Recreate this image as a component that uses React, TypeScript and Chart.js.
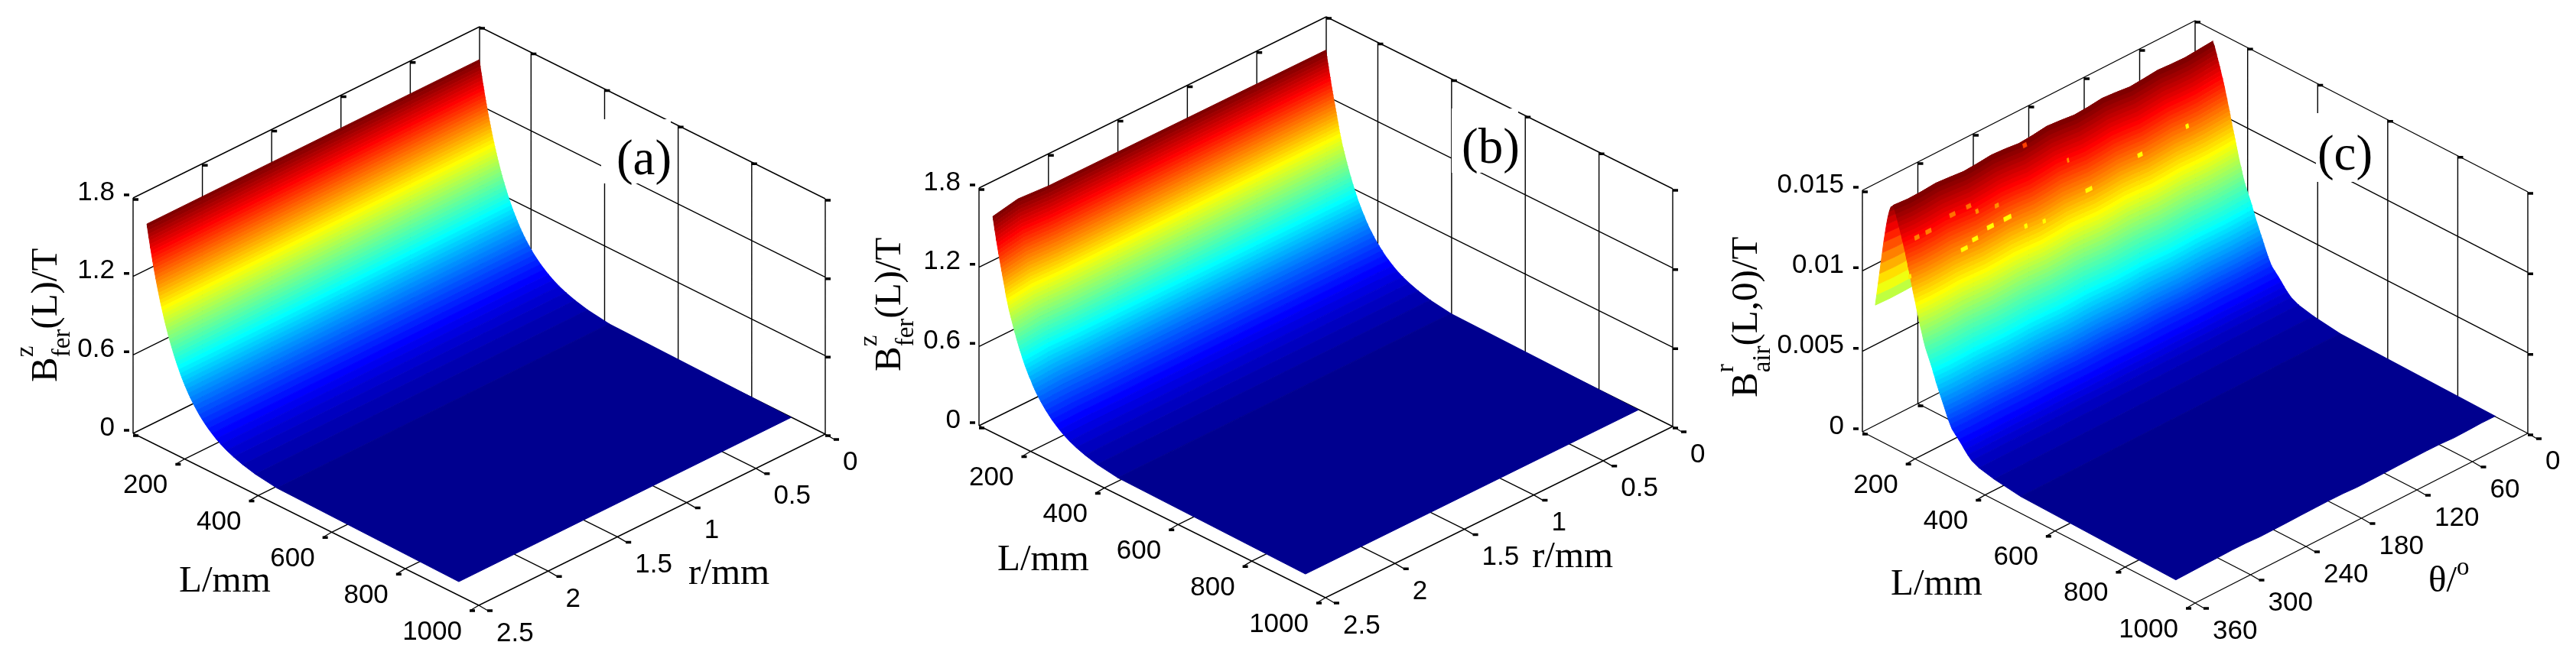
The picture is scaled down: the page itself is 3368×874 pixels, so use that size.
import React, { useEffect, useRef } from "react";
import { Chart, registerables } from "chart.js";

Chart.register(...registerables);

// ---------- data ----------
const LENGTH_TICKS = [200, 400, 600, 800, 1000];
const RADIUS_TICKS = [0, 0.5, 1, 1.5, 2, 2.5];
const RADIUS_TICK_LABELS = ["0", "0.5", "1", "1.5", "2", "2.5"];
const ANGLE_TICKS = [0, 60, 120, 180, 240, 300, 360];
const ANGLE_TICK_LABELS = ["0", "60", "120", "180", "240", "300", "360"];
const FERRITE_TICKS = [0, 0.6, 1.2, 1.8];
const FERRITE_TICK_LABELS = ["0", "0.6", "1.2", "1.8"];
const AIR_TICKS = [0, 0.005, 0.01, 0.015];
const AIR_TICK_LABELS = ["0", "0.005", "0.01", "0.015"];

// Lengths along the core (mm) at which the surface changes colour level, panel (a)
const LENGTH_A = [
  60, 61.3, 62.7, 64.1, 65.5, 66.9, 68.4, 69.8, 71.4, 72.9, 74.4, 76.1, 77.6, 79.3, 81, 82.7, 84.5, 86.3, 88.1, 90,
  91.9, 93.8, 95.8, 97.8, 100, 102.1, 104.3, 106.6, 108.9, 111.3, 113.8, 116.3, 118.9, 121.6, 124.4, 127.3, 130.3,
  133.4, 136.6, 139.9, 143.4, 147, 150.8, 154.7, 158.9, 163.2, 167.8, 172.7, 177.8, 183.3, 189.2, 195.5, 202.3, 209.7,
  217.8, 226.6, 236.8, 248.1, 261.2, 276.7, 295.7, 320.2, 354.6, 413.5, 908,
];
// Same levels in panel (b), where the decay is slightly quicker
const LENGTH_B = [
  60, 61.3, 62.7, 64.1, 65.5, 66.9, 68.4, 69.8, 71.4, 72.9, 74.4, 76.1, 77.6, 79.3, 81, 82.7, 84.5, 86, 87.8, 89.5,
  91.2, 93, 94.5, 96, 98, 100, 102, 104, 106.5, 109, 111.5, 114, 116.5, 119, 122, 124.5, 127.5, 130.5, 133.5, 137, 140,
  143.5, 147, 151, 155, 159, 164, 168, 173, 178, 184, 190, 197, 204, 212, 220, 230, 241, 253, 268, 286, 310, 343, 399,
  908,
];
const FIELD_FER = [
  1.549, 1.525, 1.5, 1.476, 1.452, 1.428, 1.404, 1.379, 1.355, 1.331, 1.307, 1.283, 1.258, 1.234, 1.21, 1.186, 1.162,
  1.137, 1.113, 1.089, 1.065, 1.041, 1.016, 0.992, 0.968, 0.944, 0.92, 0.895, 0.871, 0.847, 0.823, 0.799, 0.774, 0.75,
  0.726, 0.702, 0.678, 0.653, 0.629, 0.605, 0.581, 0.557, 0.532, 0.508, 0.484, 0.46, 0.436, 0.411, 0.387, 0.363, 0.339,
  0.315, 0.29, 0.266, 0.242, 0.218, 0.194, 0.169, 0.145, 0.121, 0.097, 0.073, 0.048, 0.024, 0,
];
const RADIUS_A = [0, 2.4];
const GAIN_A = [1, 1];
const RADIUS_B = [0, 2, 2.22, 2.4];
const GAIN_B = [1, 1.005, 1.015, 0.99];

// Panel (c): the field rises to a ridge and then decays
const LENGTH_AIR = [
  50, 54, 58, 62, 66, 70, 74, 78, 82, 86, 90, 94, 98, 101, 106, 109, 112, 115, 118, 121, 124, 126.5, 129.5, 132, 135,
  137, 139.5, 142, 144, 146.5, 149, 151, 153, 155.5, 157.5, 160, 162.5, 165, 167, 169.5, 172, 174, 176.5, 179, 182,
  184.5, 187, 190, 193, 197, 201, 205, 209, 213, 216, 220, 223, 227, 231, 235, 239, 243, 247, 251, 255, 259, 264, 269,
  278, 288, 297, 305, 314, 325, 346, 389, 465, 908,
];
const FIELD_AIR = [
  0.0075, 0.0082, 0.0089, 0.0096, 0.0103, 0.011, 0.0117, 0.0123, 0.0129, 0.0134, 0.0138, 0.0141, 0.0142, 0.0143,
  0.01405, 0.01383, 0.0136, 0.01338, 0.01316, 0.01293, 0.01271, 0.01249, 0.01227, 0.01204, 0.01182, 0.0116, 0.01137,
  0.01115, 0.01093, 0.0107, 0.01048, 0.01026, 0.01004, 0.00981, 0.00959, 0.00937, 0.00914, 0.00892, 0.0087, 0.00847,
  0.00825, 0.00803, 0.00781, 0.00758, 0.00736, 0.00714, 0.00691, 0.00669, 0.00647, 0.00624, 0.00602, 0.0058, 0.00558,
  0.00535, 0.00513, 0.00491, 0.00468, 0.00446, 0.00424, 0.00401, 0.00379, 0.00357, 0.00335, 0.00312, 0.0029, 0.00268,
  0.00245, 0.00223, 0.00201, 0.00178, 0.00156, 0.00134, 0.00112, 0.00089, 0.00067, 0.00045, 0.00022, 0,
];
const ANGLE_C = [0, 15, 30, 45, 60, 75, 90, 105, 120, 135, 150, 165, 180, 195, 210, 225, 240, 255, 270, 285, 300, 315, 330, 346];
const GAIN_C = [1, 0.995, 0.99, 0.992, 0.996, 0.99, 0.985, 0.992, 0.997, 0.99, 0.986, 0.993, 0.998, 0.99, 0.985, 0.992, 0.996, 0.99, 0.986, 0.992, 0.997, 0.992, 0.99, 0.995];
const EDGE_C = [0.00005, 0.00006, 0.00003, 0.00001, 0.00006, 0.00007, 0.00006, 0.00005, 0.00003, 0.00002, 0.00001, 0.00006, 0.00007, 0.00006, 0.00005, 0.00003, 0.00002, 0.00001, 0.00006, 0.00007, 0.00005, 0.00004, 0.00002, 0];
// Small numerical artefacts on the (c) surface: index into LENGTH_AIR, angle, angular extent, colour level
const SPECK_STRIP = [30, 29, 28, 28, 30, 28, 29, 31, 22, 22, 21, 21, 23, 24, 32, 33, 14, 22, 31];
const SPECK_ANGLE = [284, 272, 254, 235, 345, 43, 94, 153, 329, 316, 289, 272, 266, 245, 221, 202, 204, 167, 150];
const SPECK_SPAN = [7, 6, 7, 8, 3, 3, 5, 4, 5, 6, 6, 5, 3, 4, 3, 3, 4, 2, 3];
const SPECK_LEVEL = [0.62, 0.62, 0.62, 0.62, 0.64, 0.62, 0.62, 0.62, 0.74, 0.74, 0.76, 0.76, 0.72, 0.72, 0.62, 0.62, 0.8, 0.72, 0.62];

// ---------- panel layout ----------
const SERIF = '"Liberation Serif"';
const SANS = '"Liberation Sans"';
type Pair = [number, number];
const PANELS: any[] = [
  {
    x0: 0, x1: 1129, back: [627, 343] as Pair, left: [174, 567] as Pair, right: [1079, 568] as Pair, height: 308,
    lMin: 60, sMax: 2.5, zMax: 1.8, lengths: LENGTH_A, field: FIELD_FER, cross: RADIUS_A, gain: GAIN_A, edge: null,
    sTicks: RADIUS_TICKS, sLabels: RADIUS_TICK_LABELS, zTicks: FERRITE_TICKS, zLabels: FERRITE_TICK_LABELS,
    tag: "(a)", tagBox: [786, 156, 91, 84], tagAt: [842, 228],
    yTitle: { x: 74, y: 500, sup: "z", sub: "fer", rest: "(L)/T" },
    lTitleAt: [234, 774], sTitle: "r/mm", sTitleAt: [900, 764],
  },
  {
    x0: 1129, x1: 2240, back: [1734, 333] as Pair, left: [1280, 557] as Pair, right: [2187, 558] as Pair, height: 311,
    lMin: 60, sMax: 2.5, zMax: 1.8, lengths: LENGTH_B, field: FIELD_FER, cross: RADIUS_B, gain: GAIN_B, edge: null,
    sTicks: RADIUS_TICKS, sLabels: RADIUS_TICK_LABELS, zTicks: FERRITE_TICKS, zLabels: FERRITE_TICK_LABELS,
    tag: "(b)", tagBox: [1898, 142, 87, 84], tagAt: [1949, 213],
    yTitle: { x: 1177, y: 486, sup: "z", sub: "fer", rest: "(L)/T" },
    lTitleAt: [1304, 746], sTitle: "r/mm", sTitleAt: [2003, 742],
  },
  {
    x0: 2240, x1: 3368, back: [2870, 343] as Pair, left: [2435, 565] as Pair, right: [3305, 567] as Pair, height: 316,
    lMin: 50, sMax: 360, zMax: 0.015, lengths: LENGTH_AIR, field: FIELD_AIR, cross: ANGLE_C, gain: GAIN_C, edge: EDGE_C,
    sTicks: ANGLE_TICKS, sLabels: ANGLE_TICK_LABELS, zTicks: AIR_TICKS, zLabels: AIR_TICK_LABELS,
    tag: "(c)", tagBox: [3028, 148, 74, 90], tagAt: [3066, 222],
    yTitle: { x: 2297, y: 520, sup: "r", sub: "air", rest: "(L,0)/T" },
    lTitleAt: [2472, 778], sTitle: "\u03b8/", sTitleSup: "o", sTitleAt: [3175, 774],
    specks: { strip: SPECK_STRIP, angle: SPECK_ANGLE, span: SPECK_SPAN, level: SPECK_LEVEL },
  },
];

// MATLAB jet(64)
function jet(f: number): string {
  const i = Math.max(0, Math.min(63, Math.floor(f * 64)));
  let r = 0, g = 0, b = 0;
  if (i >= 24 && i <= 39) r = (i - 23) / 16;
  else if (i >= 40 && i <= 55) r = 1;
  else if (i >= 56) r = 1 - (i - 55) / 16;
  if (i >= 8 && i <= 23) g = (i - 7) / 16;
  else if (i >= 24 && i <= 39) g = 1;
  else if (i >= 40 && i <= 55) g = 1 - (i - 39) / 16;
  if (i <= 7) b = (i + 9) / 16;
  else if (i <= 23) b = 1;
  else if (i <= 39) b = 1 - (i - 23) / 16;
  return `rgb(${Math.round(r * 255)},${Math.round(g * 255)},${Math.round(b * 255)})`;
}

function makeProjector(p: any) {
  const span = 1000 - p.lMin;
  return (L: number, s: number, z: number) => {
    const fl = (L - p.lMin) / span;
    const fs = s / p.sMax;
    return {
      x: p.back[0] + fl * (p.right[0] - p.back[0]) + fs * (p.left[0] - p.back[0]),
      y: p.back[1] + fl * (p.right[1] - p.back[1]) + fs * (p.left[1] - p.back[1]) - (z / p.zMax) * p.height,
    };
  };
}

const GAP = { x: NaN, y: NaN };

function buildDatasets(p: any) {
  const at = makeProjector(p);
  const zTop = p.zTicks[p.zTicks.length - 1];
  const lo = p.lMin;
  const sEnd = p.sMax;
  const wires: any[] = [];
  const marks: any[] = [];
  const seg = (a: any, b: any) => wires.push(a, b, GAP);
  const mark = (q: any, dx: number, dy: number) => marks.push({ x: q.x + dx, y: q.y + dy }, { x: q.x + dx + 7, y: q.y + dy }, GAP);

  // walls
  for (const z of p.zTicks) {
    seg(at(lo, sEnd, z), at(lo, 0, z));
    seg(at(lo, 0, z), at(1000, 0, z));
    mark(at(lo, sEnd, z), -12, -4);
    mark(at(1000, 0, z), 0, 2);
  }
  for (const s of p.sTicks) {
    seg(at(lo, s, 0), at(lo, s, zTop));
    mark(at(lo, s, zTop), 0, 2);
    mark(at(lo, s, 0), 0, 3);
    const foot = at(1000, s, 0);
    seg(at(lo, s, 0), foot);
    seg(foot, { x: foot.x + 12, y: foot.y + 7 });
    mark(foot, 11, 7);
  }
  for (const L of [lo, ...LENGTH_TICKS]) {
    seg(at(L, 0, 0), at(L, 0, zTop));
    mark(at(L, 0, zTop), 0, 2);
    const foot = at(L, sEnd, 0);
    seg(at(L, 0, 0), foot);
    if (L !== lo) {
      seg(foot, { x: foot.x - 10, y: foot.y + 6 });
      mark(foot, -12, 7);
    } else {
      mark(foot, 0, 3);
    }
  }

  const out: any[] = [
    { data: wires, borderColor: "#000", borderWidth: 1.4, showLine: true, pointRadius: 0, fill: false, spanGaps: false },
    { data: marks, borderColor: "#000", borderWidth: 3.5, showLine: true, pointRadius: 0, fill: false, spanGaps: false },
  ];

  // surface: one closed strip per colour level, back to front
  const zColor = Math.max(...p.field);
  const height = (i: number, j: number) => (p.field[i] === 0 ? (p.edge ? p.edge[j] : 0) : p.field[i] * p.gain[j]);
  for (let i = 0; i + 1 < p.lengths.length; i++) {
    const ring: any[] = [];
    p.cross.forEach((s: number, j: number) => ring.push(at(p.lengths[i], s, height(i, j))));
    for (let j = p.cross.length - 1; j >= 0; j--) ring.push(at(p.lengths[i + 1], p.cross[j], height(i + 1, j)));
    const c = jet((p.field[i] + p.field[i + 1]) / 2 / zColor);
    out.push({ data: ring, showLine: true, pointRadius: 0, fill: "shape", backgroundColor: c, borderColor: c, borderWidth: 1 });
  }
  if (p.specks) {
    p.specks.strip.forEach((i: number, k: number) => {
      const a = p.specks.angle[k];
      const b = a + p.specks.span[k];
      const c = jet(p.specks.level[k]);
      const ring = [at(p.lengths[i], a, p.field[i]), at(p.lengths[i], b, p.field[i]), at(p.lengths[i + 1], b, p.field[i + 1]), at(p.lengths[i + 1], a, p.field[i + 1])];
      out.push({ data: ring, showLine: true, pointRadius: 0, fill: "shape", backgroundColor: c, borderColor: c, borderWidth: 0.5 });
    });
  }
  const n = out.length;
  out.forEach((d, i) => { d.order = n - i; d.tension = 0; });
  return out;
}

function textPlugin(p: any) {
  const at = makeProjector(p);
  return {
    id: "panelText",
    afterDatasetsDraw(chart: any) {
      const ctx = chart.ctx;
      const ox = p.x0;
      ctx.save();
      ctx.fillStyle = "#fff";
      ctx.fillRect(p.tagBox[0] - ox, p.tagBox[1], p.tagBox[2], p.tagBox[3]);
      ctx.fillStyle = "#000";
      const put = (t: string, x: number, y: number, font: string, align: any, base: any) => {
        ctx.font = font;
        ctx.textAlign = align;
        ctx.textBaseline = base;
        ctx.fillText(t, x - ox, y);
      };
      const tickFont = `35px ${SANS}`;
      LENGTH_TICKS.forEach((L) => {
        const q = at(L, p.sMax, 0);
        put(String(L), q.x - 22, q.y + 35, tickFont, "right", "middle");
      });
      p.sTicks.forEach((s: number, i: number) => {
        const q = at(1000, s, 0);
        put(p.sLabels[i], q.x + 23, q.y + 37, tickFont, "left", "middle");
      });
      p.zTicks.forEach((z: number, i: number) => {
        const q = at(p.lMin, p.sMax, z);
        put(p.zLabels[i], q.x - 24, q.y - 7, tickFont, "right", "middle");
      });
      const titleFont = `49px ${SERIF}`;
      const smallFont = `33px ${SERIF}`;
      put(p.tag, p.tagAt[0], p.tagAt[1], `65px ${SERIF}`, "center", "alphabetic");
      put("L/mm", p.lTitleAt[0], p.lTitleAt[1], titleFont, "left", "alphabetic");
      put(p.sTitle, p.sTitleAt[0], p.sTitleAt[1], titleFont, "left", "alphabetic");
      if (p.sTitleSup) {
        ctx.font = titleFont;
        const w = ctx.measureText(p.sTitle).width;
        put(p.sTitleSup, p.sTitleAt[0] + w, p.sTitleAt[1] - 22, smallFont, "left", "alphabetic");
      }
      // rotated y title with sub- and superscript
      const t = p.yTitle;
      ctx.save();
      ctx.translate(t.x - ox, t.y);
      ctx.rotate(-Math.PI / 2);
      ctx.textAlign = "left";
      ctx.textBaseline = "alphabetic";
      ctx.font = titleFont;
      ctx.fillText("B", 0, 0);
      let adv = ctx.measureText("B").width;
      ctx.font = smallFont;
      ctx.fillText(t.sup, adv, -31);
      ctx.fillText(t.sub, adv, 17);
      adv += ctx.measureText(t.sub).width;
      ctx.font = titleFont;
      ctx.fillText(t.rest, adv, 0);
      ctx.restore();
      ctx.restore();
    },
  };
}

function Panel({ p }: { p: any }) {
  const ref = useRef<HTMLCanvasElement>(null);
  useEffect(() => {
    const chart = new Chart(ref.current as HTMLCanvasElement, {
      type: "scatter",
      data: { datasets: buildDatasets(p) },
      options: {
        animation: false,
        responsive: false,
        events: [],
        layout: { padding: 0 },
        elements: { line: { tension: 0, borderCapStyle: "butt", borderJoinStyle: "miter" } },
        plugins: { legend: { display: false }, tooltip: { enabled: false }, title: { display: false } },
        scales: {
          x: { type: "linear", display: false, min: p.x0, max: p.x1 },
          y: { type: "linear", display: false, min: 0, max: 874, reverse: true },
        },
      } as any,
      plugins: [textPlugin(p)],
    } as any);
    return () => chart.destroy();
  }, [p]);
  return (
    <canvas
      ref={ref}
      width={p.x1 - p.x0}
      height={874}
      style={{ position: "absolute", left: p.x0, top: 0, width: p.x1 - p.x0, height: 874, display: "block" }}
    />
  );
}

export default function App() {
  return (
    <div style={{ position: "fixed", left: 0, top: 0, width: 3368, height: 874, background: "#fff", overflow: "hidden" }}>
      {PANELS.map((p) => (
        <Panel key={p.tag} p={p} />
      ))}
    </div>
  );
}
